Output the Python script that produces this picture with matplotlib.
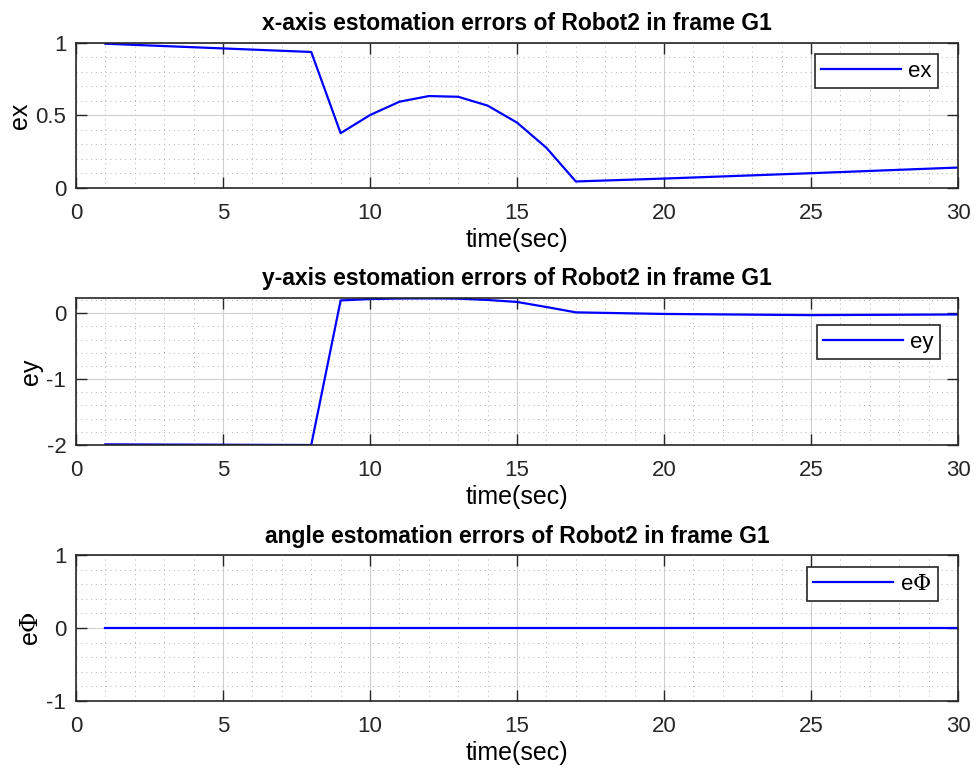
import numpy as np
import matplotlib
matplotlib.use('Agg')
import matplotlib.pyplot as plt
from matplotlib.ticker import MultipleLocator, FuncFormatter

# ── data ──────────────────────────────────────────────────────────────────────
t_ex = [1, 8, 9, 10, 11, 12, 13, 14, 15, 16, 17, 20, 25, 30]
ex   = [0.995, 0.938, 0.378, 0.503, 0.595, 0.634, 0.629, 0.568, 0.451, 0.277,
        0.045, 0.065, 0.102, 0.141]

t_ey = [1, 8, 9, 10, 11, 12, 13, 14, 15, 16, 17, 20, 25, 30]
ey   = [-1.99, -2.0, 0.193, 0.214, 0.222, 0.224, 0.22, 0.2, 0.17, 0.093,
        0.012, -0.012, -0.03, -0.02]

t_ephi = [1, 30]
ephi   = [0.0, 0.0]

TITLES = [
    'x-axis estomation errors of Robot2 in frame G1',
    'y-axis estomation errors of Robot2 in frame G1',
    'angle estomation errors of Robot2 in frame G1',
]
YLABELS = ['ex', 'ey', r'e$\Phi$']
LEGENDS = ['ex', 'ey', r'e$\Phi$']

plt.rcParams.update({
    'font.family': 'Liberation Sans',
    'mathtext.fontset': 'dejavuserif',
    'axes.edgecolor': '#262626',
    'axes.linewidth': 1.2,
    'xtick.color': '#262626',
    'ytick.color': '#262626',
    'xtick.labelcolor': '#262626',
    'ytick.labelcolor': '#262626',
})

fig = plt.figure(figsize=(9.76, 7.73), dpi=100)
fig.patch.set_facecolor('white')

# axes boxes in figure fractions (left, bottom, width, height)
boxes = [
    [0.0779, 0.7568, 0.9037, 0.1876],
    [0.0779, 0.4243, 0.9037, 0.1902],
    [0.0779, 0.0931, 0.9037, 0.1889],
]
# legend upper-right corner in axes fractions
leg_anchor = [(0.9773, 0.924), (0.9796, 0.816), (0.9773, 0.918)]

series = [(t_ex, ex), (t_ey, ey), (t_ephi, ephi)]
ylims = [(0, 1), (-2.0, 0.23), (-1, 1)]
ymaj = [0.5, 1.0, 1.0]
ymin = [0.1, 0.2, 0.2]

for i, box in enumerate(boxes):
    ax = fig.add_axes(box)
    t, v = series[i]
    ax.plot(t, v, color='#0000FF', linewidth=1.6, label=LEGENDS[i])
    ax.set_xlim(0, 30)
    ax.set_ylim(*ylims[i])
    ax.xaxis.set_major_locator(MultipleLocator(5))
    ax.xaxis.set_minor_locator(MultipleLocator(1))
    ax.yaxis.set_major_locator(MultipleLocator(ymaj[i]))
    ax.yaxis.set_minor_locator(MultipleLocator(ymin[i]))
    ax.grid(which='major', color='#D0D0D0', linewidth=0.8, linestyle='-')
    ax.grid(which='minor', color='#B0B0B0', linewidth=0.7, linestyle=(0, (1, 4)))
    ax.set_axisbelow(True)
    ax.tick_params(which='major', direction='in', length=8, width=1.0,
                   top=True, right=True, labelsize=16)
    ax.tick_params(axis='x', which='major', pad=11)
    ax.tick_params(axis='y', which='major', pad=7)
    ax.tick_params(which='minor', length=0)
    ax.yaxis.set_major_formatter(FuncFormatter(lambda y, p: '%g' % y))
    ax.set_title(TITLES[i], fontsize=16.5, fontweight='bold', pad=9)
    ax.set_xlabel('time(sec)', fontsize=18, labelpad=3)
    ax.set_ylabel(YLABELS[i], fontsize=18, labelpad=2.5)
    leg = ax.legend(loc='upper right', bbox_to_anchor=leg_anchor[i],
                    fontsize=16, handlelength=3.6, fancybox=False,
                    framealpha=1, borderaxespad=0.0, borderpad=0.3,
                    handletextpad=0.3)
    leg.get_frame().set_edgecolor('#262626')
    leg.get_frame().set_linewidth(1.2)

fig.savefig('out.png', dpi=100, facecolor='white')
